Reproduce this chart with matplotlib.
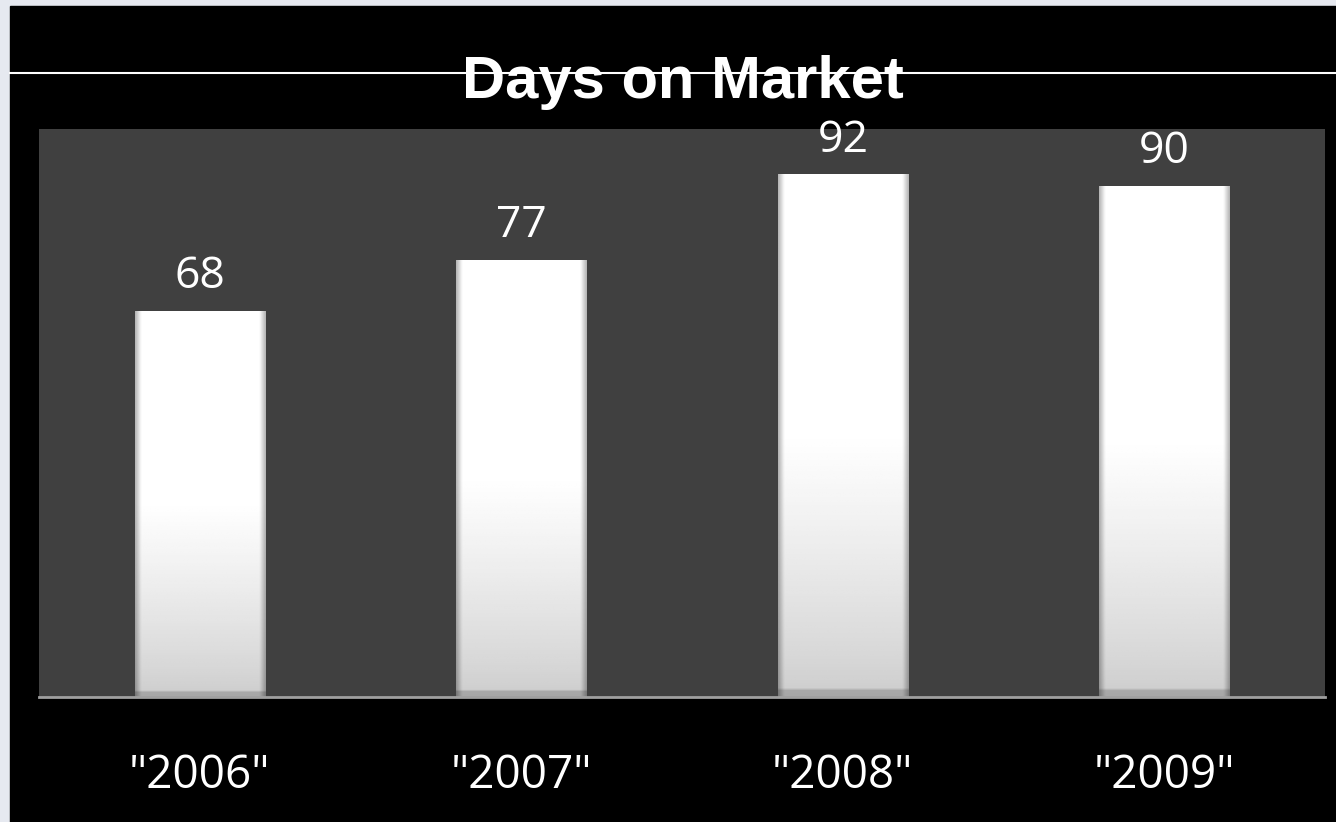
import numpy as np
import matplotlib.pyplot as plt
from matplotlib.patches import Rectangle
from matplotlib.lines import Line2D

years = ['"2006"', '"2007"', '"2008"', '"2009"']
days = [68, 77, 92, 90]

W, H = 1336, 822
fig = plt.figure(figsize=(W / 100, H / 100), dpi=100, facecolor='#e6e9f0')

# black slide background, with a thin light strip on the left and top
fig.patches.append(Rectangle((10 / W, 0), 1 - 10 / W, 1 - 6 / H,
                             transform=fig.transFigure, color='black', zorder=-5))
fig.lines.append(Line2D([10 / W, 1], [1 - 73 / H, 1 - 73 / H],
                        transform=fig.transFigure, color='white', lw=1.5, zorder=-4))

fig.text(683 / W, 1 - 83 / H, 'Days on Market', color='white', fontsize=43,
         fontweight='bold', family='Liberation Sans', ha='center', va='center', zorder=3)

ax = fig.add_axes([39 / W, 1 - 697 / H, (1325 - 39) / W, (697 - 129) / H], zorder=2)
ax.set_facecolor('#404040')
ax.set_xlim(-0.5, 3.5)
ax.set_ylim(0, 100)

x = np.arange(len(years))
bars = ax.bar(x, days, width=0.405, color='none', edgecolor='none', zorder=2)

# gradient fill: white at top, light grey at bottom, darker side edges
ny, nx = 200, 100
t = np.linspace(0, 1, ny)[:, None]          # 0 = bottom, 1 = top
vert = np.where(t > 0.5, 1.0, 0.80 + 0.20 * (t / 0.5) ** 0.8)
u = np.linspace(0, 1, nx)[None, :]
edge = np.minimum(u, 1 - u)
side = np.clip(0.72 + 0.28 * edge / 0.045, 0, 1)
img = vert * side
img[:3, :] *= 0.82
for b in bars:
    x0, w, h = b.get_x(), b.get_width(), b.get_height()
    im = ax.imshow(img, cmap='gray', vmin=0, vmax=1, origin='lower',
                   extent=(x0, x0 + w, 0, h), aspect='auto', zorder=2,
                   interpolation='bilinear')
    im.set_clip_path(b)

for xi, v in zip(x, days):
    ax.text(xi, v + 2.0, str(v), color='white', fontsize=32, family='Open Sans',
            ha='center', va='bottom', zorder=3)

for s in ['top', 'right', 'left']:
    ax.spines[s].set_visible(False)
ax.spines['bottom'].set_color('#a0a0a0')
ax.spines['bottom'].set_linewidth(2)
ax.set_yticks([])
ax.set_xticks(x)
ax.set_xticklabels(years, color='white', fontsize=33, family='Open Sans')
ax.tick_params(axis='x', length=0, pad=40)

fig.savefig('out.png', dpi=100, facecolor=fig.get_facecolor())
